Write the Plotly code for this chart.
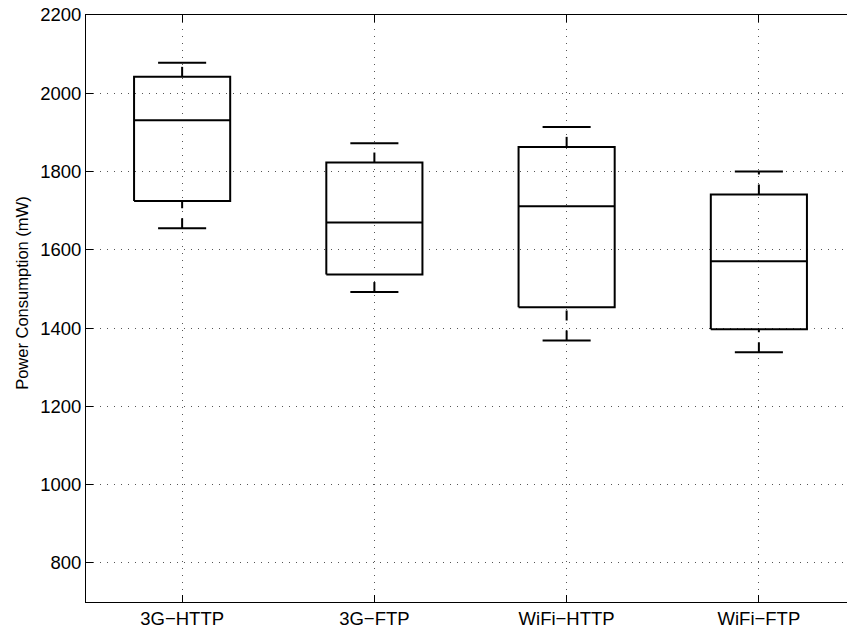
import plotly.graph_objects as go

categories = ["3G\u2212HTTP", "3G\u2212FTP", "WiFi\u2212HTTP", "WiFi\u2212FTP"]
lower_whisker = [1655, 1492, 1368, 1338]
q1 = [1725, 1537, 1453, 1397]
median = [1931, 1670, 1711, 1571]
q3 = [2042, 1823, 1863, 1741]
upper_whisker = [2078, 1872, 1914, 1800]
y_ticks = [800, 1000, 1200, 1400, 1600, 1800, 2000, 2200]
y_title = "Power Consumption (mW)"

positions = list(range(1, len(categories) + 1))
box_half = 0.25
cap_half = 0.125
line_style = dict(color="black", width=2)

fig = go.Figure()

# whiskers (dashed), drawn from lower value to upper value
for c, lo, a, b, hi in zip(positions, lower_whisker, q1, q3, upper_whisker):
    fig.add_trace(go.Scatter(x=[c, c], y=[lo, a], mode="lines",
                             line=dict(color="black", width=2, dash="10px,10px"),
                             showlegend=False, hoverinfo="skip"))
    fig.add_trace(go.Scatter(x=[c, c], y=[b, hi], mode="lines",
                             line=dict(color="black", width=2, dash="10px,10px"),
                             showlegend=False, hoverinfo="skip"))

xs, ys = [], []
for c, lo, a, m, b, hi in zip(positions, lower_whisker, q1, median, q3, upper_whisker):
    xs += [c - box_half, c + box_half, c + box_half, c - box_half, c - box_half, None]
    ys += [a, a, b, b, a, None]
    xs += [c - box_half, c + box_half, None]
    ys += [m, m, None]
    xs += [c - cap_half, c + cap_half, None]
    ys += [lo, lo, None]
    xs += [c - cap_half, c + cap_half, None]
    ys += [hi, hi, None]

fig.add_trace(go.Scatter(x=xs, y=ys, mode="lines", line=line_style,
                         connectgaps=False, showlegend=False, hoverinfo="skip"))

family = "Liberation Sans, Arial, Helvetica, sans-serif"
tick_font = dict(family=family, size=18.5, color="black")
title_font = dict(family=family, size=16.5, color="black")

# the original axes box runs a little past the right edge of the 847px window
fig.update_layout(
    width=855, height=632,
    margin=dict(l=86, r=0, t=15, b=30),
    paper_bgcolor="white", plot_bgcolor="white",
    font=tick_font,
    xaxis=dict(
        range=[0.5, 4.5],
        tickvals=positions, ticktext=categories,
        showline=True, linecolor="black", linewidth=1, mirror="allticks",
        ticks="inside", ticklen=7, tickcolor="black", tickwidth=1,
        showgrid=True, gridcolor="#555", gridwidth=1, griddash="1px,6px",
        zeroline=False, tickfont=tick_font, automargin=False,
    ),
    yaxis=dict(
        range=[700, 2200],
        tickvals=y_ticks,
        showline=True, linecolor="black", linewidth=1, mirror=False,
        ticks="inside", ticklen=7, tickcolor="black", tickwidth=1,
        showgrid=True, gridcolor="#555", gridwidth=1, griddash="1px,6px",
        zeroline=False, tickfont=tick_font, automargin=False,
    ),
    annotations=[dict(
        text=y_title, textangle=-90, font=title_font, showarrow=False,
        xref="paper", yref="paper", x=-64 / 769, y=0.525,
        xanchor="center", yanchor="middle",
    )],
)

fig.write_html(
    "out.html",
    config={"displayModeBar": False},
    post_script="document.body.style.margin='0';document.body.style.overflow='hidden';",
)
